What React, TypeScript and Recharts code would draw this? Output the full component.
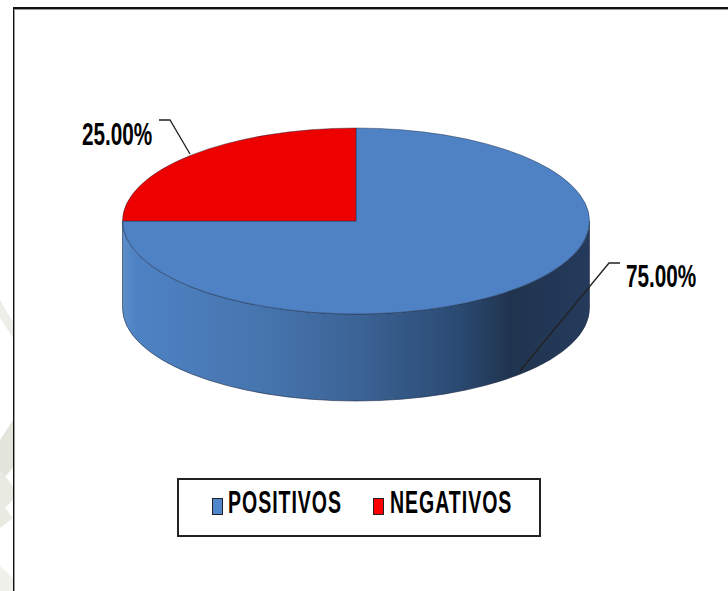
import React from "react";
import { PieChart, Pie, Legend } from "recharts";

const categories = ["POSITIVOS", "NEGATIVOS"];
const values = [75, 25];
const sliceColors = ["#4e82c4", "#ec0000"];
const legendColors = ["#4f86cc", "#ff0000"];

const chartData = categories.map((name, i) => ({
  name,
  value: values[i],
  fill: sliceColors[i],
}));

const RX = 233.5;
const RY_RATIO = 93 / 233.5;
const DEPTH = 87;
const EDGE = "#1c2a44";
const FONT = '"Liberation Sans", Arial, sans-serif';

const rad = (deg: number) => (deg * Math.PI) / 180;

// squashed sector with a wall under the part that faces the viewer
const Slice3D = (props: any) => {
  const { cx, cy, outerRadius, startAngle, endAngle, fill } = props;
  const ry = outerRadius * RY_RATIO;
  const px = (a: number) => cx + outerRadius * Math.cos(rad(a));
  const py = (a: number) => cy - ry * Math.sin(rad(a));
  const large = Math.abs(startAngle - endAngle) > 180 ? 1 : 0;
  const top = `M${cx},${cy} L${px(startAngle)},${py(startAngle)} A${outerRadius},${ry} 0 ${large} 1 ${px(endAngle)},${py(endAngle)} Z`;

  // visible wall runs between 0 and -180 degrees
  const wallFrom = Math.min(startAngle, 0);
  const wallTo = Math.max(endAngle, -180);
  const hasWall = wallFrom > wallTo;
  const wall = hasWall
    ? `M${px(wallFrom)},${py(wallFrom)} A${outerRadius},${ry} 0 0 1 ${px(wallTo)},${py(wallTo)} L${px(wallTo)},${py(wallTo) + DEPTH} A${outerRadius},${ry} 0 0 0 ${px(wallFrom)},${py(wallFrom) + DEPTH} Z`
    : "";

  return (
    <g>
      {hasWall && <path d={wall} fill="url(#wallShade)" stroke={EDGE} strokeWidth={0.6} />}
      <path d={top} fill={fill} stroke={EDGE} strokeWidth={0.6} strokeOpacity={0.75} />
    </g>
  );
};

const renderLabel = (props: any) => {
  const { cx, cy, percent, index } = props;
  const text = `${(percent * 100).toFixed(2)}%`;
  const line =
    index === 0
      ? `M${cx + 164},${cy + 150} L${cx + 253},${cy + 42} L${cx + 264},${cy + 42}`
      : `M${cx - 166},${cy - 67} L${cx - 186},${cy - 101} L${cx - 197},${cy - 101}`;
  const tx = index === 0 ? cx + 270 : cx - 274;
  const ty = index === 0 ? cy + 66 : cy - 76;
  return (
    <g>
      <path d={line} fill="none" stroke="#222" strokeWidth={1.3} />
      <text
        transform={`translate(${tx},${ty}) scale(0.648,1)`}
        fontFamily={FONT}
        fontWeight="bold"
        fontSize={32}
        fill="#000"
      >
        {text}
      </text>
    </g>
  );
};

const LegendBox = ({ payload }: any) => (
  <div
    style={{
      boxSizing: "border-box",
      width: 364,
      height: 59,
      border: "2px solid #222",
      background: "#fff",
      position: "relative",
    }}
  >
    {(payload || []).map((entry: any, i: number) => (
      <div key={entry.value}>
        <span
          style={{
            position: "absolute",
            left: i === 0 ? 33 : 194,
            top: 18,
            width: 11,
            height: 17,
            boxSizing: "border-box",
            border: "1.5px solid #222",
            background: legendColors[i],
          }}
        />
        <span
          style={{
            position: "absolute",
            left: i === 0 ? 49 : 211,
            top: 8,
            fontFamily: FONT,
            fontWeight: "bold",
            fontSize: 32,
            letterSpacing: 1.6,
            color: "#000",
            whiteSpace: "nowrap",
            transform: "scaleX(0.61)",
            transformOrigin: "left top",
            lineHeight: "28px",
          }}
        >
          {entry.value}
        </span>
      </div>
    ))}
  </div>
);

// faint page watermark that shows left of the frame
const Watermark = () => (
  <svg width={13} height={591} style={{ position: "absolute", left: 0, top: 0 }}>
    <polygon points="0,300 13,322 13,338 0,318" fill="#eeeee8" />
    <polygon points="0,440 13,420 13,468 0,482" fill="#e3e4da" />
    <polygon points="0,470 13,486 13,500 5,508 13,518 0,528" fill="#e9eae2" />
    <polygon points="0,566 13,578 13,591 0,591" fill="#f1f1ec" />
  </svg>
);

export default function App() {
  return (
    <div style={{ position: "absolute", left: 0, top: 0, width: 728, height: 591, overflow: "hidden", background: "#fff" }}>
      <Watermark />
      <div
        style={{
          position: "absolute",
          left: 13,
          top: 7,
          width: 715,
          height: 584,
          boxSizing: "border-box",
          borderLeft: "1px solid #111",
          borderTop: "2px solid #111",
          boxShadow: "inset 1px 1px 0 #999",
        }}
      />
      <PieChart width={728} height={591} margin={{ top: 0, right: 0, bottom: 0, left: 0 }}>
        <defs>
          <linearGradient id="wallShade" gradientUnits="userSpaceOnUse" x1={122} y1={0} x2={590} y2={0}>
            <stop offset="0" stopColor="#5c8ec8" />
            <stop offset="0.03" stopColor="#4e82c4" />
            <stop offset="0.3" stopColor="#4675ae" />
            <stop offset="0.5" stopColor="#3c6496" />
            <stop offset="0.72" stopColor="#2a4a72" />
            <stop offset="0.83" stopColor="#20344f" />
            <stop offset="1" stopColor="#253b5c" />
          </linearGradient>
        </defs>
        <Pie
          data={chartData}
          dataKey="value"
          nameKey="name"
          cx={356}
          cy={221}
          outerRadius={RX}
          startAngle={90}
          endAngle={-270}
          stroke="none"
          shape={Slice3D}
          label={renderLabel}
          labelLine={false}
          isAnimationActive={false}
        />
        <Legend
          content={<LegendBox />}
          itemSorter={null}
          wrapperStyle={{ position: "absolute", left: 177, top: 478, width: 364, height: 59 }}
        />
      </PieChart>
    </div>
  );
}
